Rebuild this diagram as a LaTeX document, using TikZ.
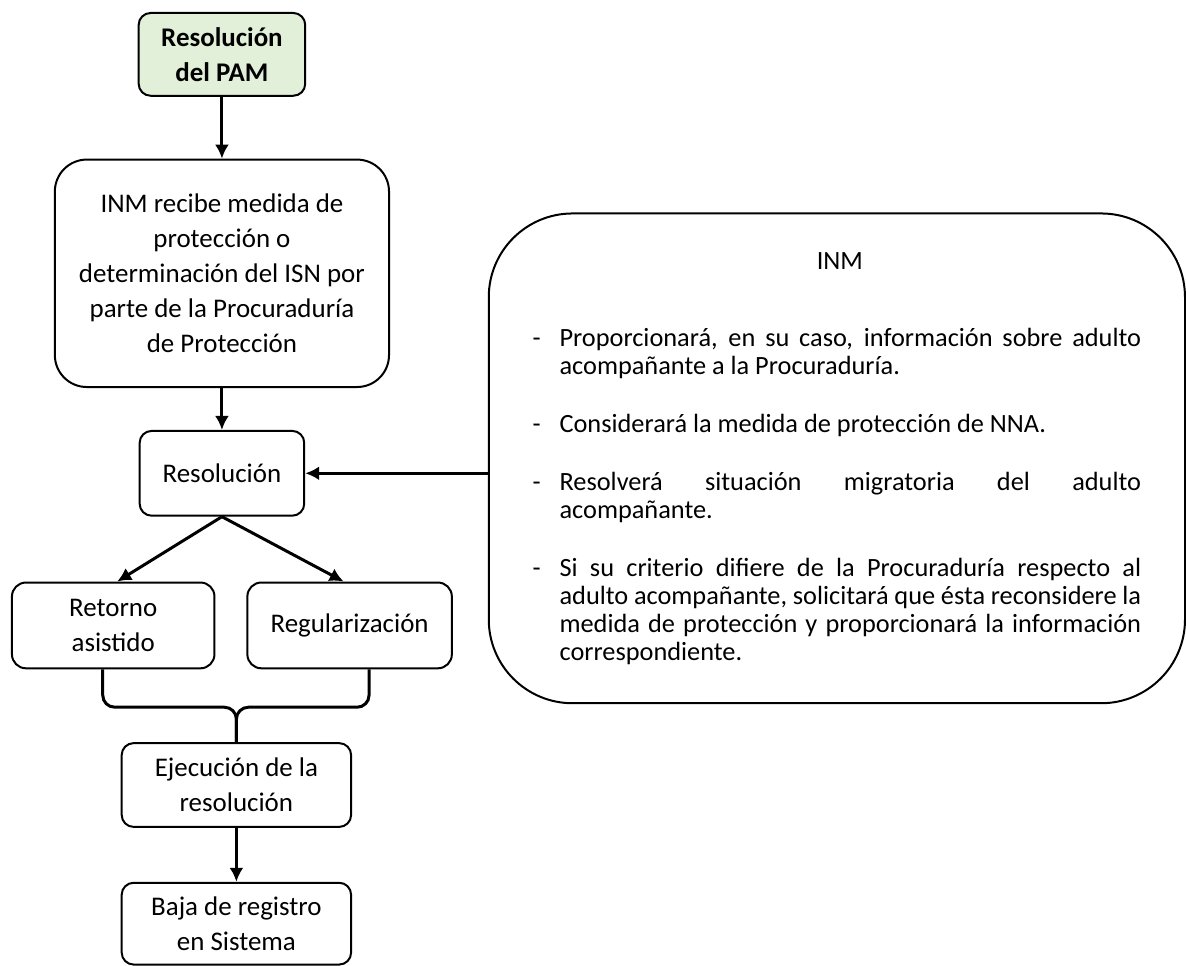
\documentclass[tikz,border=0pt]{standalone}
\usepackage{fontspec}
\setmainfont{Carlito}
\usetikzlibrary{positioning, arrows.meta}

\definecolor{verdepam}{RGB}{226,239,217}
\newcommand{\guion}{\noindent\hangindent=13.5pt\hangafter=1\makebox[13.5pt][l]{-}}

\begin{document}
\begin{tikzpicture}[
    caja/.style={rectangle, rounded corners=6pt, draw, line width=1pt, align=center, font=\fontsize{13.5}{17.5}\selectfont},
    inicio/.style={caja, fill=verdepam, font=\fontsize{13.5}{17.5}\selectfont\bfseries},
    panel/.style={rectangle, rounded corners=42pt, draw, line width=1pt, minimum width=349pt, minimum height=245.5pt, text width=305pt, align=justify, font=\fontsize{13.2}{14}\selectfont},
    flecha/.style={draw, line width=1.5pt, -{Latex[length=7pt, width=7pt]}},
    llave/.style={draw, line width=1.5pt, rounded corners=6pt}
  ]

  \node[inicio, minimum width=83.5pt, minimum height=41.5pt] (pam) {Resolución\\del PAM};
  \node[caja, rounded corners=16pt, minimum width=167.5pt, minimum height=114pt, below=31pt of pam] (inm) {INM recibe medida de\\protección o\\determinación del ISN por\\parte de la Procuraduría\\de Protección};
  \node[caja, minimum width=82.5pt, minimum height=42.5pt, below=21pt of inm] (res) {Resolución};
  \node[caja, rounded corners=7pt, minimum width=101.5pt, minimum height=43pt, below=32.5pt of res, xshift=-54.5pt] (ret) {Retorno\\asistido};
  \node[caja, rounded corners=7pt, minimum width=102.5pt, minimum height=43pt, below=32.5pt of res, xshift=64pt] (reg) {Regularización};
  \node[caja, minimum width=115pt, minimum height=42pt, below=113pt of res, xshift=7.25pt] (eje) {Ejecución de la\\resolución};
  \node[caja, minimum width=115pt, minimum height=41pt, below=27pt of eje] (baja) {Baja de registro\\en Sistema};
  \node[panel, right=91.5pt of res, yshift=7.5pt] (inmpanel) {%
    \tolerance=9999\relax\hyphenpenalty=10000\relax
    \vspace*{6.5pt}
    {\noindent\centering INM\par}\vspace{18.5pt}
    \guion Proporcionará, en su caso, información sobre adulto acompañante a la Procuraduría.\par\vspace{15pt}
    \guion Considerará la medida de protección de NNA.\par\vspace{15pt}
    \guion Resolverá situación migratoria del adulto acompañante.\par\vspace{15pt}
    \guion Si su criterio difiere de la Procuraduría respecto al adulto acompañante, solicitará que ésta reconsidere la\linebreak{} medida de protección y proporcionará la información\linebreak{} correspondiente.\par};

  \coordinate (retbase) at ([yshift=-19pt]ret.south);
  \coordinate (junta) at (retbase -| eje.north);

  \draw[flecha] (pam) -- (inm);
  \draw[flecha] (inm) -- (res);
  \draw[flecha] (inmpanel.west |- res.east) -- (res.east);
  \draw[flecha] (res.south) -- ([xshift=2pt]ret.north);
  \draw[flecha] (res.south) -- ([xshift=-3pt]reg.north);
  \draw[llave] ([xshift=-5.25pt]ret.south) |- (junta) -- (eje.north);
  \draw[llave] ([xshift=9.75pt]reg.south) |- (junta) -- (eje.north);
  \draw[flecha] (eje) -- (baja);

  \useasboundingbox ([xshift=-69pt, yshift=6pt]pam.north west) rectangle ++(593pt,-480pt);

\end{tikzpicture}
\end{document}
